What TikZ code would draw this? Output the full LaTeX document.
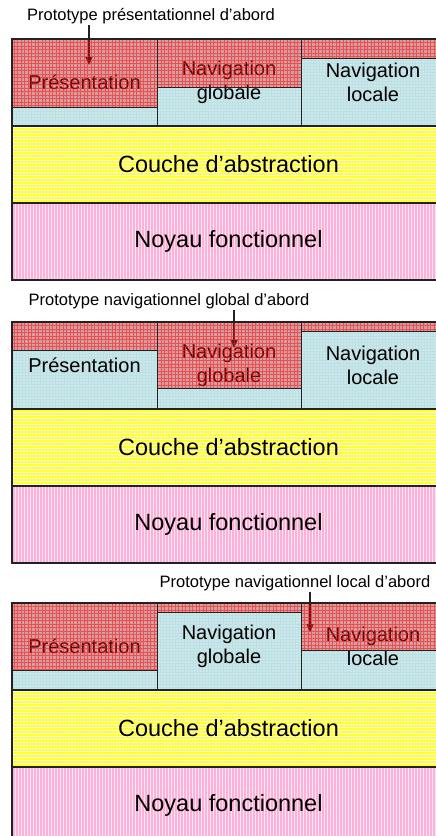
\documentclass[tikz,border=0pt]{standalone}
\usepackage{fontspec}
\setmainfont{Liberation Sans}
\usetikzlibrary{patterns.meta,arrows.meta}

\definecolor{bleuclair}{HTML}{BDE0E4}
\definecolor{jaune}{HTML}{FFFF33}
\definecolor{rose}{HTML}{FFB0D8}
\definecolor{trait}{HTML}{222222}
\definecolor{grille}{HTML}{FF1010}

\begin{document}
\begin{tikzpicture}[x=1pt,y=-1pt,
    every node/.style={align=center,inner sep=0pt},
    cell/.style={preaction={fill=bleuclair},pattern={Dots[distance=3pt,radius=.7pt]},
      pattern color=white,minimum width=#1,minimum height=87pt,
      font=\fontsize{20}{24}\selectfont},
    couche/.style={preaction={fill=jaune},pattern={Lines[angle=0,distance=3pt,line width=1pt]},
      pattern color=white,minimum width=433pt,minimum height=77pt,
      font=\fontsize{23.5}{28}\selectfont},
    noyau/.style={preaction={fill=rose},pattern={Lines[angle=90,distance=3pt,line width=1pt]},
      pattern color=white!70!rose,minimum width=433pt,minimum height=77pt,
      font=\fontsize{23.5}{28}\selectfont},
    titre/.style={font=\fontsize{16.5}{19}\selectfont,inner sep=1.5pt},
    surligne/.style={fill=red,fill opacity=.3},
    grillerouge/.style={draw=grille,draw opacity=.55,line width=.5pt,step=3.5pt},
    fleche/.style={-{Triangle[width=7pt,length=8pt]},line width=1.2pt,trait},
    cadre/.style={line width=2pt,trait},
    fin/.style={line width=1pt,trait}]
  \useasboundingbox (0,0) rectangle (436,836);
  % une tranche par prototype
  \foreach \t/\ra/\rb/\rc/\tx/\ty/\txt/\ax/\ay [count=\i] in {
      39/68/48/19/151/-23/{Prototype présentationnel d’abord}/89/26,
      322/28/66/9/169/-21/{Prototype navigationnel global d’abord}/234/26,
      603/67/9/47/295/-20/{Prototype navigationnel local d’abord}/310/29} {
    \begin{scope}[shift={(0,\t)}]
      \node[cell=145pt] (pres\i) at (84.5,43.5) {Présentation};
      \node[cell=144pt] (navg\i) at (229,43.5) {Navigation\\globale};
      \node[cell=144pt] (navl\i) at (373,43.5) {Navigation\\locale};
      \node[couche] (abs\i) at (228.5,125.5) {Couche d’abstraction};
      \node[noyau] (noy\i) at (228.5,202.5) {Noyau fonctionnel};
      \node[titre] (titre\i) at (\tx,\ty) {\txt};
      \coordinate (pointe\i) at (\ax,\ay);
      \draw[fleche] (titre\i.south -| pointe\i) -- (pointe\i);
      % partie deja prototypee
      \fill[surligne] (12,0) rectangle (157,\ra);
      \fill[surligne] (157,0) rectangle (301,\rb);
      \fill[surligne] (301,0) rectangle (445,\rc);
      \draw[grillerouge] (12,0) grid (157,\ra);
      \draw[grillerouge] (157,0) grid (301,\rb);
      \draw[grillerouge] (301,0) grid (445,\rc);
      \draw[fin] (12,\ra) -- (157,\ra);
      \draw[fin] (157,\rb) -- (301,\rb);
      \draw[fin] (301,\rc) -- (445,\rc);
      \draw[fin] (pres\i.north east) -- (pres\i.south east);
      \draw[fin] (navg\i.north east) -- (navg\i.south east);
      \draw[cadre] (12,0) rectangle (445,241);
      \draw[cadre] (abs\i.north west) -- (abs\i.north east);
      \draw[cadre] (noy\i.north west) -- (noy\i.north east);
    \end{scope}
  }
\end{tikzpicture}
\end{document}
